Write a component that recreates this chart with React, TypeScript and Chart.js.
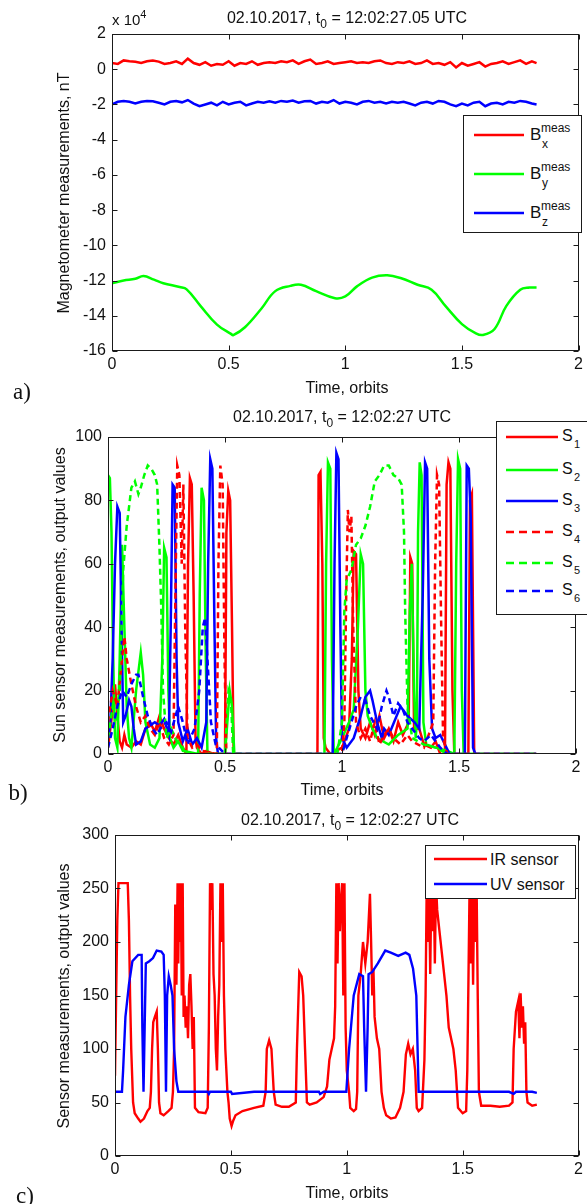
import React, { useEffect, useRef } from "react";
import { Chart, registerables } from "chart.js";

Chart.register(...registerables);

const FONT = "'Liberation Sans', Arial, Helvetica, sans-serif";
const SERIF = "'Liberation Serif', 'Times New Roman', serif";
const PAGE_W = 587;
const PAGE_H = 1204;

// ---------------- Panel a: magnetometer (units of 1e4 nT) ----------------
const magTime = [
  0, 0.025, 0.05, 0.075, 0.1, 0.125, 0.15, 0.175, 0.2, 0.225,
  0.25, 0.275, 0.3, 0.325, 0.35, 0.375, 0.4, 0.425, 0.45, 0.475,
  0.5, 0.525, 0.55, 0.575, 0.6, 0.625, 0.65, 0.675, 0.7, 0.725,
  0.75, 0.775, 0.8, 0.825, 0.85, 0.875, 0.9, 0.925, 0.95, 0.975,
  1.0, 1.025, 1.05, 1.075, 1.1, 1.125, 1.15, 1.175, 1.2, 1.225,
  1.25, 1.275, 1.3, 1.325, 1.35, 1.375, 1.4, 1.425, 1.45, 1.475,
  1.5, 1.525, 1.55, 1.575, 1.6, 1.625, 1.65, 1.675, 1.7, 1.725,
  1.75, 1.775, 1.8, 1.82,
];
const bxMeas = [
  0.35, 0.3, 0.5, 0.45, 0.42, 0.35, 0.45, 0.5, 0.43, 0.3,
  0.35, 0.45, 0.3, 0.6, 0.35, 0.25, 0.4, 0.2, 0.3, 0.25,
  0.45, 0.2, 0.35, 0.3, 0.45, 0.25, 0.35, 0.4, 0.35, 0.45,
  0.4, 0.5, 0.3, 0.45, 0.55, 0.3, 0.35, 0.45, 0.3, 0.35,
  0.4, 0.45, 0.35, 0.4, 0.35, 0.45, 0.5, 0.35, 0.3, 0.4,
  0.35, 0.45, 0.3, 0.35, 0.5, 0.3, 0.35, 0.25, 0.4, 0.1,
  0.35, 0.2, 0.3, 0.4, 0.15, 0.3, 0.35, 0.45, 0.3, 0.4,
  0.5, 0.3, 0.45, 0.35,
];
const bzMeas = [
  -2.0, -1.85, -1.8, -1.85, -1.95, -1.85, -1.8, -1.82, -1.9, -2.0,
  -1.85, -1.8, -1.88, -1.75, -1.95, -2.1, -2.0, -1.9, -2.05, -1.85,
  -2.0, -1.9, -1.85, -2.05, -1.95, -1.85, -1.9, -1.82, -1.9, -1.8,
  -1.85, -1.78, -1.9, -1.82, -1.8, -1.95, -1.85, -1.9, -1.75, -1.95,
  -1.85, -1.9, -2.0, -1.85, -1.8, -1.9, -1.85, -1.95, -1.85, -1.9,
  -1.85, -1.95, -2.05, -1.9, -1.85, -1.95, -1.8, -1.85, -2.0, -2.1,
  -1.95, -2.05, -1.9, -1.85, -2.1, -1.95, -1.9, -2.0, -1.85, -1.9,
  -1.8, -1.85, -1.95, -2.0,
];
const byTime = [
  0, 0.05, 0.1, 0.135, 0.18, 0.22, 0.29, 0.32, 0.38, 0.45,
  0.51, 0.52, 0.57, 0.64, 0.7, 0.765, 0.81, 0.875, 0.956, 1.0,
  1.05, 1.115, 1.18, 1.24, 1.31, 1.37, 1.43, 1.5, 1.56, 1.59,
  1.64, 1.69, 1.75, 1.79, 1.82,
];
const byMeas = [
  -12.15, -12.0, -11.9, -11.74, -11.95, -12.15, -12.37, -12.5, -13.45, -14.5,
  -15.03, -15.1, -14.65, -13.6, -12.6, -12.3, -12.24, -12.6, -13.0, -12.9,
  -12.33, -11.83, -11.7, -11.87, -12.24, -12.52, -13.45, -14.47, -15.0, -15.09,
  -14.75, -13.45, -12.52, -12.4, -12.4,
];

// ---------------- Panel b: sun sensors ----------------
const s1Time = [
  0, 0.01, 0.02, 0.03, 0.04, 0.05, 0.06, 0.07, 0.08, 0.1,
  0.12, 0.14, 0.16, 0.18, 0.2, 0.22, 0.24, 0.26, 0.28, 0.3,
  0.32, 0.335, 0.342, 0.35, 0.358, 0.366, 0.374, 0.38, 0.4, 0.42,
  0.45, 0.5, 0.506, 0.514, 0.522, 0.53, 0.537, 0.895, 0.9, 0.908,
  0.916, 0.922, 0.93, 0.95, 1.0, 1.03, 1.042, 1.05, 1.06, 1.07,
  1.08, 1.1, 1.12, 1.14, 1.16, 1.18, 1.2, 1.22, 1.24, 1.26,
  1.285, 1.292, 1.3, 1.308, 1.33, 1.35, 1.38, 1.4, 1.42, 1.44,
  1.447, 1.455, 1.463, 1.472, 1.48, 1.54, 1.547, 1.555, 1.565, 1.83,
];
const s1Val = [
  2, 8, 14, 22, 12, 4, 2, 6, 3, 2,
  4, 3, 8, 10, 7, 12, 8, 5, 3, 6,
  2, 0, 60, 87, 85, 50, 5, 2, 0, 1,
  0, 0, 70, 83, 80, 40, 0, 0, 88, 89,
  60, 5, 2, 0, 2, 8, 30, 64, 63, 20,
  8, 5, 10, 6, 12, 5, 8, 4, 10, 6,
  10, 62, 60, 8, 8, 3, 2, 4, 0, 0,
  85, 92, 90, 20, 0, 0, 80, 82, 0, 0,
];
const s2Time = [
  0, 0.008, 0.015, 0.02, 0.025, 0.03, 0.04, 0.05, 0.06, 0.07,
  0.08, 0.09, 0.1, 0.12, 0.14, 0.15, 0.16, 0.18, 0.2, 0.22,
  0.232, 0.24, 0.25, 0.258, 0.265, 0.28, 0.3, 0.32, 0.385, 0.392,
  0.4, 0.41, 0.418, 0.425, 0.5, 0.52, 0.53, 0.54, 0.925, 0.932,
  0.94, 0.95, 0.957, 0.965, 0.98, 1.0, 1.03, 1.05, 1.068, 1.08,
  1.09, 1.1, 1.11, 1.13, 1.15, 1.2, 1.24, 1.28, 1.29, 1.298,
  1.308, 1.315, 1.32, 1.325, 1.332, 1.34, 1.348, 1.36, 1.4, 1.45,
  1.48, 1.488, 1.496, 1.505, 1.512, 1.52, 1.83,
];
const s2Val = [
  88, 87, 70, 40, 20, 5, 2, 30, 66, 40,
  15, 5, 2, 20, 32, 25, 10, 3, 2, 5,
  30, 65, 62, 20, 5, 2, 4, 1, 0, 50,
  84, 80, 30, 0, 0, 20, 15, 0, 0, 60,
  92, 90, 30, 0, 2, 5, 10, 14, 40, 63,
  60, 20, 12, 8, 5, 3, 6, 8, 45, 60,
  20, 5, 10, 70, 92, 88, 10, 3, 2, 1,
  0, 60, 93, 90, 20, 0, 0,
];
const s3Time = [
  0, 0.01, 0.02, 0.03, 0.04, 0.05, 0.058, 0.065, 0.075, 0.09,
  0.1, 0.11, 0.12, 0.14, 0.16, 0.2, 0.22, 0.24, 0.26, 0.268,
  0.276, 0.285, 0.293, 0.3, 0.32, 0.34, 0.36, 0.38, 0.4, 0.42,
  0.428, 0.437, 0.446, 0.455, 0.462, 0.47, 0.96, 0.968, 0.976, 0.985,
  0.993, 1.0, 1.02, 1.05, 1.08, 1.1, 1.12, 1.13, 1.15, 1.17,
  1.18, 1.2, 1.25, 1.28, 1.31, 1.33, 1.345, 1.355, 1.364, 1.373,
  1.385, 1.4, 1.42, 1.44, 1.46, 1.525, 1.533, 1.542, 1.55, 1.56,
  1.57, 1.83,
];
const s3Val = [
  5, 10, 30, 60, 78, 76, 40, 10, 12, 17,
  15, 8, 3, 4, 8, 10, 9, 11, 6, 40,
  85, 84, 30, 10, 4, 8, 3, 5, 2, 10,
  60, 93, 90, 40, 5, 0, 0, 60, 95, 93,
  40, 5, 2, 5, 12, 18, 20, 17, 10, 5,
  8, 6, 15, 12, 10, 8, 50, 92, 90, 30,
  8, 5, 6, 3, 0, 0, 91, 90, 75, 2,
  0, 0,
];
const s4Time = [
  0, 0.02, 0.04, 0.06, 0.07, 0.08, 0.1, 0.12, 0.14, 0.16,
  0.18, 0.2, 0.22, 0.24, 0.26, 0.28, 0.288, 0.296, 0.305, 0.315,
  0.322, 0.33, 0.34, 0.36, 0.38, 0.4, 0.465, 0.472, 0.48, 0.49,
  0.498, 0.506, 1.0, 1.01, 1.018, 1.025, 1.032, 1.04, 1.048, 1.06,
  1.08, 1.1, 1.12, 1.14, 1.16, 1.18, 1.2, 1.22, 1.25, 1.28,
  1.3, 1.35, 1.39, 1.398, 1.406, 1.415, 1.424, 1.432, 1.45, 1.83,
];
const s4Val = [
  10, 20, 15, 30, 37, 30, 22, 15, 10, 12,
  8, 6, 10, 5, 3, 6, 50, 91, 88, 60,
  85, 40, 5, 2, 3, 1, 0, 60, 91, 85,
  30, 0, 0, 10, 50, 77, 70, 75, 40, 10,
  5, 8, 4, 10, 3, 6, 8, 5, 3, 6,
  4, 2, 10, 60, 88, 85, 40, 5, 0, 0,
];
const s5Time = [
  0, 0.02, 0.035, 0.05, 0.065, 0.08, 0.1, 0.115, 0.13, 0.14,
  0.155, 0.17, 0.185, 0.2, 0.21, 0.22, 0.228, 0.235, 0.25, 0.27,
  0.3, 0.32, 0.33, 0.5, 0.515, 0.525, 0.535,
  0.98, 1.0, 1.01, 1.02, 1.04, 1.06, 1.08, 1.1, 1.12, 1.14,
  1.16, 1.18, 1.2, 1.22, 1.24, 1.255, 1.265, 1.27, 1.28, 1.3,
  1.35, 1.4, 1.45, 1.83,
];
const s5Val = [
  5, 15, 10, 20, 58, 72, 84, 86, 82, 84,
  88, 91, 90, 88, 85, 65, 45, 20, 5, 8,
  3, 2, 0, 0, 20, 18, 0,
  0, 10, 45, 55, 58, 66, 68, 72, 78, 86,
  88, 91, 91, 88, 87, 85, 70, 45, 15, 5,
  3, 2, 0, 0,
];
const s6Time = [
  0, 0.02, 0.04, 0.06, 0.08, 0.1, 0.12, 0.13, 0.15, 0.17,
  0.19, 0.21, 0.23, 0.25, 0.27, 0.3, 0.32, 0.34, 0.37, 0.39,
  0.405, 0.415, 0.425, 0.44, 0.46, 0.5, 1.0, 1.02, 1.04, 1.06,
  1.08, 1.1, 1.12, 1.15, 1.17, 1.19, 1.2, 1.22, 1.24, 1.26,
  1.28, 1.3, 1.33, 1.35, 1.38, 1.42, 1.45, 1.83,
];
const s6Val = [
  2, 8, 15, 20, 18, 22, 25, 25, 18, 12,
  8, 6, 9, 10, 7, 15, 10, 3, 8, 20,
  40, 43, 30, 10, 3, 0, 0, 5, 10, 15,
  18, 17, 12, 8, 15, 20, 18, 12, 16, 14,
  10, 8, 5, 4, 6, 2, 0, 0,
];

// ---------------- Panel c: IR / UV sensors ----------------
const irTime = [
  0, 0.005, 0.01, 0.015, 0.055, 0.06, 0.065, 0.07, 0.078, 0.085,
  0.1, 0.11, 0.125, 0.14, 0.15, 0.155, 0.16, 0.165, 0.172, 0.18,
  0.185, 0.19, 0.196, 0.21, 0.23, 0.244, 0.25, 0.255, 0.26, 0.265,
  0.27, 0.273, 0.277, 0.28, 0.284, 0.288, 0.292, 0.296, 0.3, 0.305,
  0.31, 0.315, 0.32, 0.325, 0.33, 0.335, 0.34, 0.345, 0.36, 0.39,
  0.4, 0.405, 0.41, 0.415, 0.42, 0.425, 0.43, 0.435, 0.44, 0.445,
  0.45, 0.455, 0.46, 0.465, 0.47, 0.476, 0.485, 0.49, 0.495, 0.503,
  0.51, 0.52, 0.55, 0.6, 0.64, 0.65, 0.655, 0.665, 0.675, 0.685,
  0.693, 0.72, 0.75, 0.78, 0.785, 0.795, 0.805, 0.812, 0.82, 0.828,
  0.84, 0.87, 0.9, 0.915, 0.925, 0.935, 0.945, 0.95, 0.955, 0.96,
  0.965, 0.97, 0.975, 0.98, 0.985, 0.99, 0.995, 1.0, 1.01, 1.015,
  1.03, 1.04, 1.045, 1.05, 1.06, 1.07, 1.08, 1.09, 1.1, 1.105,
  1.11, 1.115, 1.12, 1.13, 1.14, 1.15, 1.16, 1.17, 1.19, 1.21,
  1.23, 1.245, 1.255, 1.265, 1.275, 1.285, 1.295, 1.302, 1.31, 1.325,
  1.335, 1.34, 1.345, 1.35, 1.355, 1.36, 1.365, 1.37, 1.375, 1.38,
  1.385, 1.39, 1.4, 1.41, 1.42, 1.43, 1.44, 1.46, 1.47, 1.48,
  1.5, 1.515, 1.52, 1.525, 1.53, 1.535, 1.54, 1.545, 1.55, 1.555,
  1.56, 1.565, 1.57, 1.58, 1.62, 1.66, 1.7, 1.715, 1.72, 1.73,
  1.74, 1.745, 1.75, 1.755, 1.76, 1.765, 1.77, 1.775, 1.78, 1.8,
  1.82,
];
const irVal = [
  75, 150, 220, 255, 255, 220, 150, 100, 50, 40,
  35, 32, 35, 42, 45, 60, 100, 125, 130, 135,
  100, 50, 40, 38, 42, 45, 60, 100, 235, 160,
  255, 180, 255, 200, 255, 150, 255, 130, 150, 120,
  140, 110, 160, 170, 140, 100, 130, 45, 41, 40,
  45, 120, 255, 230, 255, 170, 150, 100, 80, 130,
  160, 255, 200, 255, 150, 100, 60, 50, 35, 28,
  33, 38, 42, 45, 47, 60, 100, 108, 100, 60,
  48, 46, 46, 50, 100, 172, 168, 150, 100, 50,
  48, 50, 55, 65, 90, 100, 110, 140, 255, 180,
  255, 210, 240, 255, 150, 255, 120, 80, 60, 45,
  42, 44, 60, 150, 170, 200, 180, 200, 245, 200,
  150, 175, 130, 110, 100, 60, 45, 38, 35, 36,
  45, 60, 95, 105, 95, 100, 80, 45, 42, 45,
  90, 150, 255, 200, 255, 170, 255, 210, 255, 180,
  255, 230, 210, 190, 170, 150, 120, 100, 80, 45,
  40, 42, 80, 165, 255, 180, 255, 160, 255, 200,
  255, 150, 60, 47, 47, 46, 47, 50, 100, 135,
  145, 110, 152, 120, 140, 105, 125, 60, 50, 47,
  48,
];
const uvTime = [
  0, 0.03, 0.035, 0.045, 0.06, 0.075, 0.1, 0.115, 0.118, 0.123,
  0.128, 0.133, 0.148, 0.164, 0.18, 0.2, 0.21, 0.215, 0.22, 0.225,
  0.232, 0.24, 0.248, 0.255, 0.265, 0.273, 0.3, 0.4, 0.405, 0.41,
  0.5, 0.505, 0.6, 0.7, 0.8, 0.88, 0.885, 0.9, 0.99, 0.998,
  1.01, 1.03, 1.054, 1.07, 1.075, 1.083, 1.09, 1.094, 1.11, 1.134,
  1.166, 1.19, 1.222, 1.254, 1.27, 1.286, 1.3, 1.31, 1.4, 1.5,
  1.6, 1.7, 1.72, 1.73, 1.8, 1.82,
];
const uvVal = [
  60, 60, 80, 130, 160, 182, 188, 188, 120, 60,
  120, 180, 182, 185, 192, 191, 188, 150, 60, 150,
  168, 160, 150, 100, 70, 60, 60, 60, 58, 60,
  60, 58, 60, 60, 60, 60, 58, 60, 60, 60,
  100, 150, 170, 168, 120, 60, 120, 170, 172, 180,
  192, 190, 187, 190, 188, 175, 150, 60, 60, 60,
  60, 60, 58, 60, 60, 59,
];

// ---------------- axis ranges [min, max, step] ----------------
const orbitRange = [0, 2, 0.5];
const magRange = [-16, 2, 2];
const sunRange = [0, 100, 20];
const sensRange = [0, 300, 50];

const RED = "#ff0000";
const GREEN = "#00ff00";
const BLUE = "#0000ff";

function pts(t: number[], v: number[]) {
  return t.map((x, i) => ({ x, y: v[i] }));
}

const fmtTick = (v: any) => String(Math.round(Number(v) * 1000) / 1000);

const framePlugin = {
  id: "matlabFrame",
  afterDatasetsDraw(chart: any) {
    const { ctx, chartArea: a, scales } = chart;
    ctx.save();
    ctx.strokeStyle = "#1a1a1a";
    ctx.lineWidth = 1;
    const L = Math.round(a.left) + 0.5;
    const R = Math.round(a.right) - 0.5;
    const T = Math.round(a.top) + 0.5;
    const B = Math.round(a.bottom) - 0.5;
    ctx.strokeRect(L, T, R - L, B - T);
    const tl = 5;
    ctx.beginPath();
    scales.x.ticks.forEach((t: any) => {
      const px = Math.round(scales.x.getPixelForValue(t.value)) + 0.5;
      ctx.moveTo(px, B);
      ctx.lineTo(px, B - tl);
      ctx.moveTo(px, T);
      ctx.lineTo(px, T + tl);
    });
    scales.y.ticks.forEach((t: any) => {
      const py = Math.round(scales.y.getPixelForValue(t.value)) + 0.5;
      ctx.moveTo(L, py);
      ctx.lineTo(L + tl, py);
      ctx.moveTo(R, py);
      ctx.lineTo(R - tl, py);
    });
    ctx.stroke();
    ctx.restore();
  },
};

type Plot = { left: number; right: number; top: number; bottom: number };
type PanelDef = {
  top: number;
  height: number;
  plot: Plot;
  yRange: number[];
  datasets: any[];
};

function ChartPanel({ def }: { def: PanelDef }) {
  const ref = useRef<HTMLCanvasElement | null>(null);
  useEffect(() => {
    const { top, height, plot } = def;
    const tickFont = { family: FONT, size: 16 };
    const chart = new Chart(ref.current as HTMLCanvasElement, {
      type: "line",
      data: { datasets: def.datasets },
      options: {
        animation: false,
        responsive: false,
        devicePixelRatio: 1,
        events: [],
        layout: {
          padding: { left: 0, top: plot.top - top, right: PAGE_W - plot.right, bottom: 0 },
        },
        plugins: { legend: { display: false }, tooltip: { enabled: false } },
        elements: { point: { radius: 0 } },
        scales: {
          x: {
            type: "linear",
            min: orbitRange[0],
            max: orbitRange[1],
            ticks: {
              stepSize: orbitRange[2],
              autoSkip: false,
              maxRotation: 0,
              padding: 4,
              color: "#111",
              font: tickFont,
              callback: fmtTick,
            },
            grid: { display: false, drawTicks: false },
            border: { display: false },
            afterFit: (s: any) => {
              s.height = top + height - plot.bottom;
            },
          },
          y: {
            type: "linear",
            min: def.yRange[0],
            max: def.yRange[1],
            ticks: {
              stepSize: def.yRange[2],
              autoSkip: false,
              padding: 6,
              color: "#111",
              font: tickFont,
              callback: fmtTick,
            },
            grid: { display: false, drawTicks: false },
            border: { display: false },
            afterFit: (s: any) => {
              s.width = plot.left;
            },
          },
        },
      } as any,
      plugins: [framePlugin],
    });
    return () => chart.destroy();
  }, []);
  return (
    <canvas
      ref={ref}
      width={PAGE_W}
      height={def.height}
      style={{ position: "absolute", left: 0, top: def.top, width: PAGE_W, height: def.height, display: "block" }}
    />
  );
}

const line = (
  label: string,
  t: number[],
  v: number[],
  color: string,
  order: number,
  dash?: number[],
  width = 2.5,
  tension = 0
) => ({
  label,
  data: pts(t, v),
  borderColor: color,
  backgroundColor: color,
  borderWidth: width,
  borderDash: dash || [],
  pointRadius: 0,
  fill: false,
  tension,
  order,
});

const panelA: PanelDef = {
  top: 0,
  height: 400,
  plot: { left: 112, right: 581, top: 34, bottom: 351 },
  yRange: magRange,
  datasets: [
    line("Bx", magTime, bxMeas, RED, 3, undefined, 2.5),
    line("By", byTime, byMeas, GREEN, 2, undefined, 2.5, 0.4),
    line("Bz", magTime, bzMeas, BLUE, 1, undefined, 2.5),
  ],
};
const panelB: PanelDef = {
  top: 400,
  height: 400,
  plot: { left: 108, right: 576, top: 437, bottom: 754 },
  yRange: sunRange,
  datasets: [
    line("S1", s1Time, s1Val, RED, 6),
    line("S2", s2Time, s2Val, GREEN, 5),
    line("S3", s3Time, s3Val, BLUE, 4),
    line("S4", s4Time, s4Val, RED, 3, [6, 4]),
    line("S5", s5Time, s5Val, GREEN, 2, [6, 4]),
    line("S6", s6Time, s6Val, BLUE, 1, [6, 4]),
  ],
};
const panelC: PanelDef = {
  top: 800,
  height: 404,
  plot: { left: 115, right: 580, top: 835, bottom: 1156 },
  yRange: sensRange,
  datasets: [
    line("IR sensor", irTime, irVal, RED, 2, undefined, 2.4),
    line("UV sensor", uvTime, uvVal, BLUE, 1, undefined, 2.4),
  ],
};

function Txt({ x, y, size = 16, rotate = false, family = FONT, left = false, children }: any) {
  const tx = left ? "0" : "-50%";
  return (
    <div
      style={{
        position: "absolute",
        left: x,
        top: y,
        transform: `translate(${tx},-50%)${rotate ? " rotate(-90deg)" : ""}`,
        whiteSpace: "nowrap",
        fontFamily: family,
        fontSize: size,
        lineHeight: 1.15,
        color: "#111",
      }}
    >
      {children}
    </div>
  );
}

function Swatch({ x1, x2, y, color, dash }: any) {
  return (
    <svg style={{ position: "absolute", left: x1, top: y - 3 }} width={x2 - x1} height={6}>
      <line
        x1={0}
        y1={3}
        x2={x2 - x1}
        y2={3}
        stroke={color}
        strokeWidth={2.5}
        strokeDasharray={dash ? "8 5" : undefined}
      />
    </svg>
  );
}

function Box({ left, top, width, height }: any) {
  return (
    <div
      style={{
        position: "absolute",
        left,
        top,
        width,
        height,
        boxSizing: "border-box",
        border: "1px solid #1a1a1a",
        background: "#fff",
      }}
    />
  );
}

const sub = (s: string, top = 5, size = 12) => (
  <span style={{ fontSize: size, position: "relative", top }}>{s}</span>
);

function Title({ x, y, time }: any) {
  return (
    <Txt x={x} y={y}>
      {"02.10.2017, t"}
      {sub("0")}
      {" = " + time + " UTC"}
    </Txt>
  );
}

const magLegend = [
  { s: "x", color: RED, y: 135 },
  { s: "y", color: GREEN, y: 174 },
  { s: "z", color: BLUE, y: 213 },
];
const sunLegend = [
  { s: "1", color: RED, dash: false, y: 437 },
  { s: "2", color: GREEN, dash: false, y: 470 },
  { s: "3", color: BLUE, dash: false, y: 501 },
  { s: "4", color: RED, dash: true, y: 532 },
  { s: "5", color: GREEN, dash: true, y: 563 },
  { s: "6", color: BLUE, dash: true, y: 591 },
];

export default function App() {
  return (
    <div
      style={{
        position: "absolute",
        left: 0,
        top: 0,
        width: PAGE_W,
        height: PAGE_H,
        overflow: "hidden",
        background: "#fff",
      }}
    >
      <ChartPanel def={panelA} />
      <ChartPanel def={panelB} />
      <ChartPanel def={panelC} />

      {/* Panel a texts */}
      <Title x={347} y={18} time="12:02:27.05" />
      <Txt x={112} y={20} size={15} left>
        {"x 10"}
        <span style={{ fontSize: 11, position: "relative", top: -7 }}>4</span>
      </Txt>
      <Txt x={64} y={193} rotate>
        Magnetometer measurements, nT
      </Txt>
      <Txt x={347} y={388}>Time, orbits</Txt>
      <Txt x={22} y={392} size={23} family={SERIF}>
        a)
      </Txt>
      <Box left={463} top={115} width={119} height={118} />
      {magLegend.map((e) => (
        <React.Fragment key={e.s}>
          <Swatch x1={474} x2={524} y={e.y} color={e.color} />
          <Txt x={530} y={e.y} size={17} left>
            B
          </Txt>
          <Txt x={541} y={e.y - 6} size={12} left>
            meas
          </Txt>
          <Txt x={542} y={e.y + 10} size={12} left>
            {e.s}
          </Txt>
        </React.Fragment>
      ))}

      {/* Panel b texts */}
      <Title x={342} y={417} time="12:02:27" />
      <Txt x={60} y={595} rotate>
        Sun sensor measurements, output values
      </Txt>
      <Txt x={342} y={790}>Time, orbits</Txt>
      <Txt x={18} y={793} size={23} family={SERIF}>
        b)
      </Txt>
      <Box left={496} top={421} width={110} height={194} />
      {sunLegend.map((e) => (
        <React.Fragment key={e.s}>
          <Swatch x1={506} x2={558} y={e.y} color={e.color} dash={e.dash} />
          <Txt x={562} y={e.y - 1} size={16} left>
            S
          </Txt>
          <Txt x={574} y={e.y + 7} size={11} left>
            {e.s}
          </Txt>
        </React.Fragment>
      ))}

      {/* Panel c texts */}
      <Title x={350} y={820} time="12:02:27" />
      <Txt x={64} y={996} rotate>
        Sensor measurements, output values
      </Txt>
      <Txt x={347} y={1193}>Time, orbits</Txt>
      <Txt x={25} y={1196} size={23} family={SERIF}>
        c)
      </Txt>
      <Box left={425} top={845} width={151} height={54} />
      <Swatch x1={434} x2={487} y={859} color={RED} />
      <Txt x={490} y={860} left>
        IR sensor
      </Txt>
      <Swatch x1={434} x2={487} y={884} color={BLUE} />
      <Txt x={490} y={885} left>
        UV sensor
      </Txt>
    </div>
  );
}
